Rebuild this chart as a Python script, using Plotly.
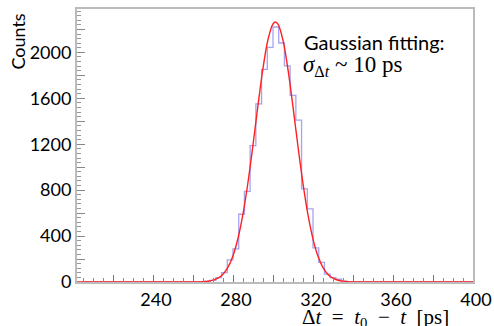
import plotly.graph_objects as go

# Histogram: bin width and first bin lower edge, counts per bin
bin_width = 2.857
bin_start = 202.86
counts = [0]*21 + [
    2, 5, 15, 38, 82, 192, 289, 590, 790, 1188, 1551, 1852, 2044,   # bins below 300
    2221, 2082, 1882, 1626, 1410, 811, 637, 298, 171, 68, 38, 24, 8, 3,
] + [0]*22

# Gaussian fit curve
fit_x = [202, 250, 255, 260, 262.5, 265, 267.5, 270, 272.5, 275, 277.5, 280, 282.5, 285,
         287.5, 290, 292.5, 295, 297.5, 300, 301.2, 302.5, 305, 307.5, 310, 312.5, 315,
         317.5, 320, 322.5, 325, 327.5, 330, 332.5, 335, 337.5, 340, 345, 350, 400]
fit_y = [0, 0, 0, 0.4, 1, 3, 7, 16, 34, 68, 129, 229, 381, 593,
         869, 1194, 1540, 1862, 2112, 2248, 2265, 2246, 2104, 1850, 1526, 1180, 857,
         584, 374, 224, 126, 66, 33, 15, 7, 3, 1, 0, 0, 0]

x_tickvals = [220, 240, 260, 280, 300, 320, 340, 360, 380, 400]
x_ticktext = ["", "240", "", "280", "", "320", "", "360", "", "400"]
y_tickvals = [0, 200, 400, 600, 800, 1000, 1200, 1400, 1600, 1800, 2000, 2200]
y_ticktext = ["0", "", "400", "", "800", "", "1200", "", "1600", "", "2000", ""]

centers = [bin_start + (i + 0.5) * bin_width for i in range(len(counts))]

fig = go.Figure()
fig.add_trace(go.Scatter(x=centers, y=counts, mode="lines", line_shape="hvh",
                         line=dict(color="rgba(125,125,235,0.7)", width=1.3),
                         hoverinfo="skip", showlegend=False))
fig.add_trace(go.Scatter(x=fit_x, y=fit_y, mode="lines", line_shape="spline",
                         line=dict(color="#ff2020", width=1.4),
                         hoverinfo="skip", showlegend=False))

tickfont = dict(family="Lato", size=18, color="black")
fig.update_layout(
    width=494, height=326,
    margin=dict(l=77, r=21, t=9, b=44),
    paper_bgcolor="white", plot_bgcolor="white",
    xaxis=dict(range=[202, 400], tickmode="array", tickvals=x_tickvals, ticktext=x_ticktext,
               ticks="inside", ticklen=7, tickcolor="#777", tickwidth=1, ticklabelshift=3,
               minor=dict(dtick=5, tick0=200, ticks="inside", ticklen=4, tickcolor="#888"),
               showline=True, mirror=True, linecolor="#bbbbbb", linewidth=2,
               showgrid=False, zeroline=False, tickfont=tickfont, automargin=False),
    yaxis=dict(range=[0, 2378], tickmode="array", tickvals=y_tickvals, ticktext=y_ticktext,
               ticks="inside", ticklen=8, tickcolor="#888", tickwidth=1,
               minor=dict(dtick=40, tick0=0, ticks="inside", ticklen=4, tickcolor="#999"),
               showline=True, mirror=True, linecolor="#bbbbbb", linewidth=2,
               showgrid=False, zeroline=False, tickfont=tickfont, automargin=False),
    annotations=[
        dict(text="Counts", xref="paper", yref="paper", x=-0.148, y=0.882,
             xanchor="center", yanchor="middle", textangle=-90, showarrow=False,
             font=dict(family="Lato", size=18, color="black")),
        dict(text="Gaussian fitting:", xref="paper", yref="paper",
             x=(302 - 77) / 396, y=(282 - 42) / 273, xanchor="left", yanchor="middle",
             showarrow=False, font=dict(family="Lato", size=20, color="black")),
        dict(text="<i>σ</i><sub>Δ<i>t</i></sub> ~ 10 ps", xref="paper", yref="paper",
             x=(301 - 77) / 396, y=(282 - 66) / 273, xanchor="left", yanchor="middle",
             showarrow=False, font=dict(family="Liberation Serif", size=23, color="black")),
        dict(text="Δ<i>t</i>&nbsp; = &nbsp;<i>t</i><sub>0</sub>&nbsp; − &nbsp;<i>t</i>&nbsp; [ps]",
             xref="paper", yref="paper",
             x=(300 - 77) / 396, y=(282 - 318) / 273, xanchor="left", yanchor="middle",
             showarrow=False, font=dict(family="Liberation Serif", size=21, color="black")),
    ],
)

fig.write_html("out.html", config={"displayModeBar": False},
               post_script="document.body.style.margin='0';document.body.style.overflow='hidden';")
